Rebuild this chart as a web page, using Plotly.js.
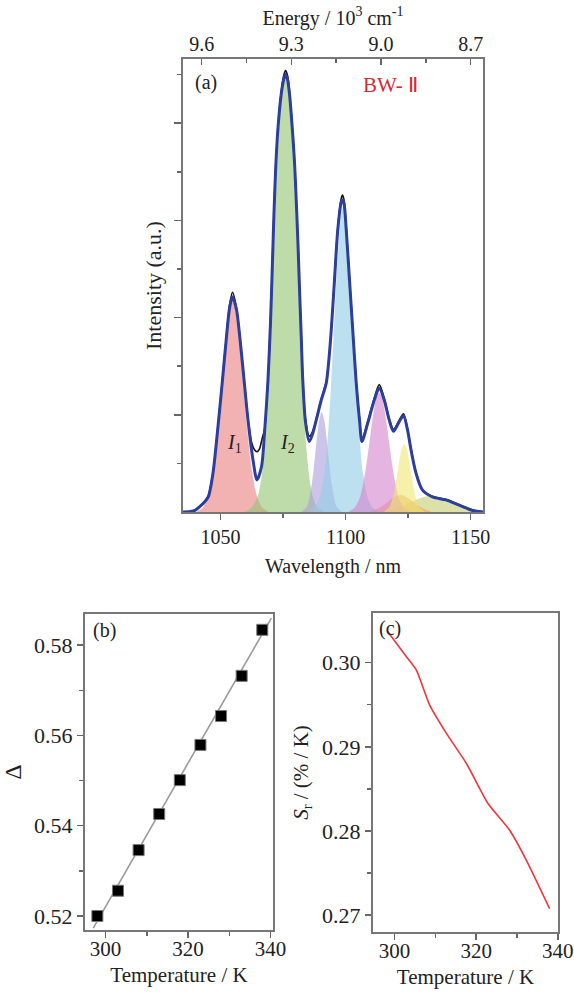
<!DOCTYPE html>
<html><head><meta charset="utf-8">
<script src="https://cdn.plot.ly/plotly-3.0.1.min.js"></script>
<style>html,body{margin:0;padding:0;background:#fff}#chart{width:574px;height:992px}</style>
</head><body><div id="chart"></div>
<script>
// ---------- Panel (a): emission spectrum ----------
const fitWl = [1035,1038,1040,1041.7,1043.5,1045.1,1047,1049,1050.8,1052.4,1053.7,1054.8,1056.4,1057.7,1059.3,1061,1063,1064.6,1066.4,1067.7,1069,1070,1070.7,1071.3,1072.1,1073,1074.3,1075.3,1076,1076.8,1077.6,1078.7,1079.6,1080.3,1081,1081.6,1082.3,1082.9,1084,1085.5,1086.8,1088.3,1090.3,1092.3,1093.3,1094.3,1095.6,1096.9,1098.3,1098.8,1099.4,1100.3,1101.6,1102.9,1104.2,1105.6,1106.6,1108.9,1111.5,1113.5,1115.5,1117.5,1119.2,1121.5,1123.2,1124.8,1126.2,1128.2,1130.8,1134.8,1140.1,1145.5,1150.8,1155];
const fitI  = [0,0.01,0.04,0.11,0.2,0.31,0.8,1.76,2.72,3.61,4.22,4.43,4.16,3.61,2.78,1.89,1.07,0.66,0.93,1.69,2.72,3.9,5.0,6.0,7.1,7.9,8.6,8.9,9.0,8.9,8.6,7.9,7.2,6.4,5.5,4.6,3.6,2.72,1.85,1.45,1.6,1.89,2.3,2.65,3.1,3.74,4.77,5.8,6.38,6.42,6.35,5.8,4.77,3.74,2.72,1.89,1.45,1.83,2.3,2.55,2.3,1.89,1.66,1.86,1.98,1.69,1.28,0.8,0.45,0.31,0.25,0.14,0.03,0];
const dataWl = [1035,1038,1040,1041.7,1043.5,1045.1,1047,1049,1050.8,1052.4,1053.7,1054.8,1056.4,1057.7,1059.3,1061,1062.5,1063.6,1064.6,1065.6,1066.6,1067.7,1069,1070,1070.7,1071.3,1072.1,1073,1074.3,1075.3,1076,1076.8,1077.6,1078.7,1079.6,1080.3,1081,1081.6,1082.3,1082.9,1084,1085.5,1086.8,1088.3,1090.3,1092.3,1093.3,1094.3,1095.6,1096.9,1098.3,1098.8,1099.4,1100.3,1101.6,1102.9,1104.2,1105.6,1106.6,1108.9,1111.5,1113.5,1115.5,1117.5,1119.2,1121.5,1123.2,1124.8,1126.2,1128.2,1130.8,1134.8,1140.1,1145.5,1150.8,1155];
const dataI  = [0,0.01,0.05,0.12,0.21,0.33,0.82,1.78,2.74,3.64,4.28,4.52,4.2,3.63,2.8,1.92,1.42,1.28,1.24,1.3,1.5,1.72,2.74,3.92,5.02,6.02,7.12,7.93,8.65,8.98,9.08,8.98,8.65,7.93,7.22,6.42,5.52,4.62,3.62,2.74,1.9,1.56,1.65,1.92,2.33,2.68,3.12,3.76,4.8,5.84,6.45,6.52,6.42,5.84,4.8,3.76,2.74,1.92,1.5,1.86,2.34,2.62,2.34,1.92,1.7,1.89,2.02,1.72,1.3,0.82,0.46,0.32,0.26,0.15,0.04,0];
// fitted components
const pinkWl = [1040.8,1042.8,1044.8,1046.8,1048.8,1050.8,1052.8,1054.8,1056.8,1058.8,1060.8,1062.8,1064.8,1066.8,1068.8];
const pinkI  = [0.02,0.09,0.29,0.77,1.64,2.82,3.9,4.35,3.9,2.82,1.64,0.77,0.29,0.09,0.02];
const greenWl = [1060,1062,1064,1065.5,1067,1068,1069,1070,1071,1072,1073,1074,1075,1076,1077,1078,1079,1080,1081,1082,1083,1084,1085,1086,1087.5,1089,1091];
const greenI  = [0.02,0.07,0.22,0.45,0.95,1.5,2.4,3.6,4.9,6.3,7.5,8.3,8.75,8.9,8.75,8.2,7.3,6.2,5.0,3.7,2.5,1.55,0.95,0.55,0.22,0.08,0.02];
const purpleWl = [1082.5,1084.5,1085.5,1086.5,1087.5,1088.5,1089.5,1090.5,1091.5,1092.5,1093.5,1094.5,1095.5,1096.5,1098.5];
const purpleI  = [0.01,0.11,0.28,0.57,1.0,1.49,1.89,2.05,1.89,1.49,1.0,0.57,0.28,0.11,0.01];
const blueWl = [1087,1089,1091,1093,1094.5,1095.5,1096.5,1097.5,1098.5,1099,1099.5,1100.5,1101.5,1102.5,1103.5,1104.5,1105.5,1107,1109,1111,1113];
const blueI  = [0.05,0.2,0.6,1.6,2.9,3.9,4.9,5.7,6.2,6.3,6.25,5.8,5.0,4.1,3.2,2.35,1.6,0.8,0.28,0.08,0.02];
const orchidWl = [1101.5,1103.5,1105.5,1106.5,1107.5,1108.5,1109.5,1110.5,1111.5,1112.5,1113.5,1114.5,1115.5,1116.5,1117.5,1118.5,1119.5,1120.5,1121.5,1123.5,1125.5];
const orchidI  = [0.02,0.08,0.27,0.45,0.71,1.03,1.41,1.79,2.13,2.37,2.45,2.37,2.13,1.79,1.41,1.03,0.71,0.45,0.27,0.08,0.02];
const yellowWl = [1115.5,1117.5,1118.5,1119.5,1120.5,1121.5,1122.5,1123.5,1124.5,1125.5,1126.5,1127.5,1128.5,1129.5,1131.5];
const yellowI  = [0.01,0.1,0.22,0.43,0.72,1.04,1.3,1.4,1.3,1.04,0.72,0.43,0.22,0.1,0.01];
const orangeWl = [1110,1113,1116,1119,1122,1125,1128,1131,1134];
const orangeI  = [0.02,0.07,0.17,0.29,0.35,0.29,0.17,0.07,0.02];
const oliveWl = [1114,1118,1122,1126,1130,1134,1138,1142,1146,1150,1154];
const oliveI  = [0.015,0.045,0.107,0.2,0.29,0.33,0.29,0.2,0.107,0.045,0.015];

const energyTicks = [9.6, 9.3, 9.0, 8.7];
const energyTickText = ['9.6', '9.3', '9.0', '8.7'];
const wlTicks = [1050, 1100, 1150];

// ---------- Panel (b): Delta vs temperature ----------
const tempB  = [298, 303, 308, 313, 318, 323, 328, 333, 338];
const deltaB = [0.5200, 0.5256, 0.5346, 0.5426, 0.5501, 0.5579, 0.5643, 0.5732, 0.5834];
const fitT = [297, 340.2];
const fitD = [0.5173, 0.5860];
const deltaTicks = [0.52, 0.54, 0.56, 0.58];

// ---------- Panel (c): relative sensitivity ----------
const tempC = [298.1, 302.9, 305.3, 308.6, 312.7, 317.6, 322.9, 328.2, 332.3, 338.0];
const srC   = [0.30381, 0.30071, 0.29913, 0.29496, 0.2916, 0.28802, 0.28326, 0.28008, 0.27651, 0.27076];
const srTicks = [0.27, 0.28, 0.29, 0.30];
const tempTicks = [300, 320, 340];

const serif = 'Liberation Serif, Times New Roman, serif';
const axisCol = '#777';

function comp(x, y, color) {
  return {x: x, y: y, xaxis: 'x', yaxis: 'y', type: 'scatter', mode: 'lines',
    line: {width: 0, shape: 'spline', smoothing: 1}, fill: 'tozeroy', fillcolor: color, hoverinfo: 'skip'};
}

const traces = [
  comp(oliveWl, oliveI, 'rgba(197,205,113,0.6)'),
  comp(orangeWl, orangeI, 'rgba(238,163,97,0.6)'),
  comp(pinkWl, pinkI, 'rgba(233,127,127,0.6)'),
  comp(greenWl, greenI, 'rgba(147,197,113,0.6)'),
  comp(purpleWl, purpleI, 'rgba(170,158,218,0.6)'),
  comp(blueWl, blueI, 'rgba(147,205,230,0.62)'),
  comp(orchidWl, orchidI, 'rgba(213,130,205,0.6)'),
  comp(yellowWl, yellowI, 'rgba(238,230,113,0.6)'),
  {x: dataWl, y: dataI, xaxis: 'x', yaxis: 'y', type: 'scatter', mode: 'lines',
   line: {color: '#111', width: 1.6, shape: 'spline', smoothing: 0.8}},
  {x: fitWl, y: fitI, xaxis: 'x', yaxis: 'y', type: 'scatter', mode: 'lines',
   line: {color: '#2d3f9e', width: 3, shape: 'spline', smoothing: 0.8}},
  // carrier for the top energy axis (draws nothing)
  {x: [9.6, 8.7], y: [null, null], xaxis: 'x2', yaxis: 'y', type: 'scatter', mode: 'lines', hoverinfo: 'skip', showlegend: false},
  // panel (b)
  {x: fitT, y: fitD, xaxis: 'x3', yaxis: 'y3', type: 'scatter', mode: 'lines',
   line: {color: '#9a9a9a', width: 1.6}},
  {x: tempB, y: deltaB, xaxis: 'x3', yaxis: 'y3', type: 'scatter', mode: 'markers',
   marker: {symbol: 'square', size: 11, color: '#000', line: {color: '#777', width: 1}}},
  // panel (c)
  {x: tempC, y: srC, xaxis: 'x4', yaxis: 'y4', type: 'scatter', mode: 'lines',
   line: {color: '#e8393f', width: 1.6, shape: 'spline', smoothing: 0.6}}
];

function baseAxis(extra) {
  return Object.assign({showline: true, linecolor: axisCol, linewidth: 2, mirror: true, showgrid: false,
    zeroline: false, ticks: 'outside', ticklen: 6, tickwidth: 1.5, tickcolor: '#666',
    tickfont: {family: serif, size: 20, color: '#222'}, fixedrange: true}, extra);
}
const tf22 = {family: serif, size: 22, color: '#222'};
const tf21 = {family: serif, size: 21, color: '#222'};

const layout = {
  width: 574, height: 992, margin: {l: 0, r: 0, t: 0, b: 0},
  paper_bgcolor: '#fff', plot_bgcolor: 'rgba(0,0,0,0)', showlegend: false,
  font: {family: serif, size: 20, color: '#222'},
  xaxis: baseAxis({domain: [183/574, 483/574], anchor: 'y', range: [1035, 1155],
    tickmode: 'array', tickvals: wlTicks,
    minor: {tickmode: 'array', tickvals: [1075, 1125], ticks: 'outside', ticklen: 4, tickcolor: '#666'},
    title: {text: 'Wavelength / nm', font: {family: serif, size: 20, color: '#222'}, standoff: 12}}),
  xaxis2: {overlaying: 'x', side: 'top', anchor: 'y', range: [9.6625, 8.659], showgrid: false, zeroline: false,
    showline: false, ticks: 'inside', ticklen: 6, tickwidth: 1.5, tickcolor: '#666',
    tickmode: 'array', tickvals: energyTicks, ticktext: energyTickText, ticklabelstandoff: 3,
    minor: {tickmode: 'array', tickvals: [9.45, 9.15, 8.85], ticks: 'inside', ticklen: 4, tickcolor: '#666'},
    tickfont: {family: serif, size: 20, color: '#222'}, fixedrange: true,
    title: {text: 'Energy / 10<sup>3</sup> cm<sup>-1</sup>', font: {family: serif, size: 20, color: '#222'}, standoff: 2}},
  yaxis: baseAxis({domain: [1 - 512/992, 1 - 59/992], anchor: 'x', range: [0, 9.32],
    tickmode: 'array', tickvals: [2, 4, 6, 8], showticklabels: false, ticklen: 7,
    minor: {tickmode: 'array', tickvals: [1, 3, 5, 7, 9], ticks: 'outside', ticklen: 4, tickcolor: '#666'},
    title: {text: 'Intensity (a.u.)', font: {family: serif, size: 22, color: '#222'}, standoff: 6}}),
  xaxis3: baseAxis({domain: [85/574, 273/574], anchor: 'y3', range: [295, 340.6],
    tickmode: 'array', tickvals: tempTicks, tickfont: tf21, ticklabelstandoff: -7,
    minor: {tickmode: 'array', tickvals: [310, 330], ticks: 'outside', ticklen: 4, tickcolor: '#666'},
    title: {text: 'Temperature / K', font: {family: serif, size: 21, color: '#222'}, standoff: 7}}),
  yaxis3: baseAxis({domain: [1 - 930/992, 1 - 614/992], anchor: 'x3', range: [0.5169, 0.5869],
    tickmode: 'array', tickvals: deltaTicks, tickformat: '.2f', tickfont: tf22,
    minor: {tickmode: 'array', tickvals: [0.53, 0.55, 0.57], ticks: 'outside', ticklen: 4, tickcolor: '#666'},
    title: {text: 'Δ', font: {family: serif, size: 24, color: '#222'}, standoff: 10}}),
  xaxis4: baseAxis({domain: [373/574, 558/574], anchor: 'y4', range: [294.7, 340.05],
    tickmode: 'array', tickvals: tempTicks, tickfont: tf21, ticklabelstandoff: -7,
    minor: {tickmode: 'array', tickvals: [310, 330], ticks: 'outside', ticklen: 4, tickcolor: '#666'},
    title: {text: 'Temperature / K', font: {family: serif, size: 21, color: '#222'}, standoff: 7}}),
  yaxis4: baseAxis({domain: [1 - 932/992, 1 - 613/992], anchor: 'x4', range: [0.268, 0.3059],
    tickmode: 'array', tickvals: srTicks, tickformat: '.2f', tickfont: tf22,
    minor: {tickmode: 'array', tickvals: [0.275, 0.285, 0.295], ticks: 'outside', ticklen: 4, tickcolor: '#666'},
    title: {text: '<i>S</i><sub>r</sub> / (% / K)', font: {family: serif, size: 21, color: '#222'}, standoff: 8}}),
  annotations: [
    {text: '(a)', xref: 'paper', yref: 'paper', x: 206/574, y: 1 - 83/992, xanchor: 'center', yanchor: 'middle', showarrow: false,
     font: {family: serif, size: 20, color: '#222'}},
    {text: 'BW- Ⅱ', xref: 'paper', yref: 'paper', x: 390/574, y: 1 - 85/992, xanchor: 'center', yanchor: 'middle', showarrow: false,
     font: {family: serif, size: 21, color: '#d42a32'}},
    {text: '<i>I</i><sub>1</sub>', xref: 'paper', yref: 'paper', x: 234/574, y: 1 - 444/992, xanchor: 'center', yanchor: 'middle', showarrow: false,
     font: {family: serif, size: 20, color: '#222'}},
    {text: '<i>I</i><sub>2</sub>', xref: 'paper', yref: 'paper', x: 287/574, y: 1 - 444/992, xanchor: 'center', yanchor: 'middle', showarrow: false,
     font: {family: serif, size: 20, color: '#222'}},
    {text: '(b)', xref: 'paper', yref: 'paper', x: 104/574, y: 1 - 630/992, xanchor: 'center', yanchor: 'middle', showarrow: false,
     font: {family: serif, size: 20, color: '#222'}},
    {text: '(c)', xref: 'paper', yref: 'paper', x: 390/574, y: 1 - 628/992, xanchor: 'center', yanchor: 'middle', showarrow: false,
     font: {family: serif, size: 20, color: '#222'}}
  ]
};

Plotly.newPlot('chart', traces, layout, {staticPlot: true, displayModeBar: false});
</script></body></html>
